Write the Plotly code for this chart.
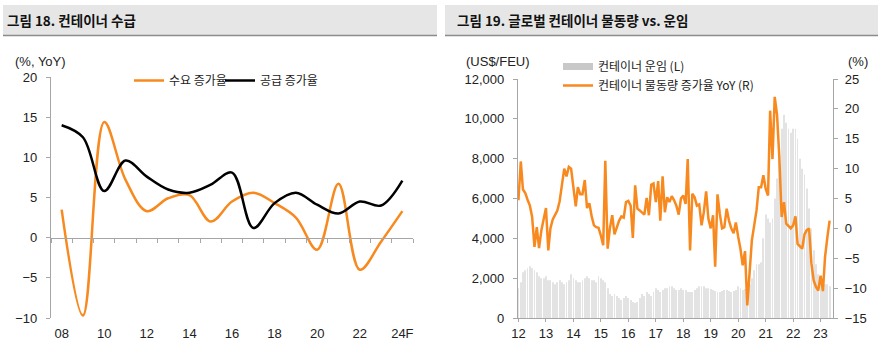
import plotly.graph_objects as go

# ---------------- Left chart data (Fig 18) ----------------
years_l = ['08', '09', '10', '11', '12', '13', '14', '15', '16', '17', '18', '19', '20', '21', '22', '23', '24F']
demand = [3.5, -9.7, 14.4, 7.2, 3.3, 4.9, 5.3, 2.0, 4.5, 5.6, 4.3, 2.5, -1.5, 6.7, -4.0, -0.5, 3.3]
supply = [14.0, 12.5, 5.8, 9.6, 7.6, 6.0, 5.6, 6.6, 8.1, 1.2, 4.3, 5.6, 4.1, 3.0, 4.5, 4.0, 7.1]
xlabels_l = ['08', '10', '12', '14', '16', '18', '20', '22', '24F']

# ---------------- Right chart data (Fig 19) ----------------
months = [f"{y}-{m:02d}-01" for y in range(2012, 2024) for m in range(1, 13)][:137]
freight = [
    1500, 1800, 2300, 2400, 2500, 2600, 2500, 2400, 2300, 2100, 2000, 2000,
    2100, 1900, 1900, 1800, 1700, 1800, 1900, 1800, 1700, 1800, 1900, 2200,
    2000, 1900, 1800, 1800, 1900, 2000, 2100, 2000, 1900, 1900, 1800, 2100,
    2000, 1900, 1800, 1500, 1200, 1100, 1200, 1100, 1000, 900, 1000, 1100,
    1000, 900, 800, 750, 800, 1000, 1200, 1100, 1300, 1200, 1100, 1300,
    1500, 1400, 1300, 1400, 1500, 1500, 1600, 1600, 1500, 1400, 1400, 1500,
    1400, 1400, 1300, 1300, 1300, 1400, 1500, 1600, 1600, 1600, 1500, 1500,
    1450, 1400, 1350, 1300, 1300, 1350, 1400, 1400, 1350, 1300, 1350, 1400,
    1600, 1500, 1400, 1450, 1500, 1700, 2000, 2400, 2700, 2700, 2800, 4000,
    5200, 5000, 4800, 5000, 6000, 7000, 8500, 9500, 10200, 9800, 9500, 9300,
    9500, 9500, 9000, 8000, 7500, 7200, 6500, 5500, 4500, 3400, 2700, 2200,
    2100, 1900, 1700, 1700, 1600,
]
volume_yoy = [
    4.7, 11.2, 6.5, 5.9, 4.8, 3.8, 1.9, -3.1, 0.2, -3.3, -0.3, 1.5,
    3.4, -3.7, 0.0, 1.5, 2.3, 3.0, 4.5, 7.5, 10.0, 8.7, 10.3, 10.0,
    7.2, 3.7, 6.9, 5.7, 5.7, 8.1, 3.4, 4.2, 2.0, 0.5, 0.2, 0.1,
    -1.2, -2.8, 11.3, -3.4, 0.0, 2.2, -1.0, 0.2, 1.3, 2.0, 1.8, 4.4,
    4.6, 3.8, -1.6, 7.2, 3.3, 3.0, 2.7, 2.3, 5.1, 2.2, 7.3, 7.5,
    4.4, 7.9, 1.3, 8.7, 2.7, 5.2, 4.4, 5.4, 4.7, 3.8, 2.3, 5.0,
    5.5, 4.1, 11.6, -3.7, 5.8, 5.2, 3.8, 4.0, 0.5, 2.7, 6.2, 1.6,
    0.0, 2.2, -6.4, 5.7, 2.5, 0.0, 0.2, 3.3, 1.3, 0.0, -0.8, 1.0,
    -1.4, -3.5, -6.2, -3.8, -12.9, -7.6, -2.0, 0.5, 3.0, 6.9, 6.9, 8.9,
    6.6, 5.5, 19.7, 11.6, 22.0, 19.0, 12.0, 1.9, 4.4, 0.8, 0.3, 0.0,
    0.5, 2.0, -2.6, -3.0, -3.4, -1.0, -0.3, 0.0, -5.9, -8.7, -9.8, -10.4,
    -7.9, -10.5, -4.8, -1.5, 1.3,
]
year_ticks = [f"{y}-01-01" for y in range(2012, 2024)]
year_text = [f"{y % 100:02d}" for y in range(2012, 2024)]

ORANGE = '#F7891F'
AXIS = '#a6a6a6'
TXT = '#222222'
FONT = 'Liberation Sans, Arial, Noto Sans CJK KR, sans-serif'
KFONT = 'Noto Sans CJK KR, Liberation Sans, sans-serif'

W, H = 891, 341
def px(x):
    return x / W
def py(y):
    return (H - y) / H

fig = go.Figure()

# Left chart
fig.add_trace(go.Scatter(x=years_l, y=demand, name='수요 증가율', mode='lines',
                         line=dict(color=ORANGE, width=2.5, shape='spline', smoothing=1.0),
                         xaxis='x', yaxis='y', legend='legend'))
fig.add_trace(go.Scatter(x=years_l, y=supply, name='공급 증가율', mode='lines',
                         line=dict(color='#000000', width=2.5, shape='spline', smoothing=1.0),
                         xaxis='x', yaxis='y', legend='legend3'))
# invisible helper trace for the zero axis with boundary ticks
fig.add_trace(go.Scatter(x=years_l, y=[0] * len(years_l), mode='lines', opacity=0,
                         showlegend=False, hoverinfo='skip', xaxis='x3', yaxis='y'))

# Right chart
fig.add_trace(go.Bar(x=months, y=freight, name='컨테이너 운임 (L)', marker=dict(color='#e3e3e3', line=dict(width=0)),
                     showlegend=False, xaxis='x2', yaxis='y2'))
fig.add_trace(go.Scatter(x=[None], y=[None], name='컨테이너 운임 (L)', mode='lines',
                         line=dict(color='#c8c8c8', width=7), xaxis='x2', yaxis='y2', legend='legend2'))
fig.add_trace(go.Scatter(x=months, y=volume_yoy, name='컨테이너 물동량 증가율 YoY (R)', mode='lines',
                         line=dict(color=ORANGE, width=2.5), xaxis='x2', yaxis='y3', legend='legend2'))

ax_common = dict(showgrid=False, zeroline=False, linecolor=AXIS, linewidth=1.2, tickcolor=AXIS,
                 tickfont=dict(family=FONT, size=13, color=TXT), automargin=False)

leg_common = dict(font=dict(family=KFONT, size=12, color=TXT), bgcolor='rgba(0,0,0,0)',
                  itemwidth=30, xanchor='left', yanchor='top')

fig.update_layout(
    width=W, height=H, margin=dict(l=0, r=0, t=0, b=0, autoexpand=False),
    paper_bgcolor='white', plot_bgcolor='rgba(0,0,0,0)',
    font=dict(family=FONT, size=12, color=TXT),
    bargap=0.6,
    xaxis=dict(domain=[px(51), px(413)], type='category', categoryorder='array', categoryarray=years_l,
               range=[-0.5, 16.5], tickvals=xlabels_l, showline=False, ticks='', ticklabelstandoff=6,
               anchor='y', **ax_common),
    xaxis3=dict(overlaying='x', anchor='free', position=py(237.7), type='category', categoryorder='array',
                categoryarray=years_l, range=[-0.5, 16.5], showline=True, ticks='outside', ticklen=4,
                tickson='boundaries', showticklabels=False, **ax_common),
    yaxis=dict(domain=[py(318), py(77)], range=[-10, 20], dtick=5, showline=True, ticks='outside', ticklen=4,
               ticklabelstandoff=6, anchor='x', **ax_common),
    xaxis2=dict(domain=[px(518), px(833)], type='date', range=['2011-12-26', '2023-06-15'],
                tickvals=year_ticks, ticktext=year_text, showline=True, ticks='outside', ticklen=3,
                ticklabelstandoff=0, anchor='y2', **ax_common),
    yaxis2=dict(domain=[py(318), py(79)], range=[0, 12000], tickvals=list(range(0, 12001, 2000)),
                tickformat=',', showline=True, ticks='outside', ticklen=4, ticklabelstandoff=6,
                anchor='x2', **ax_common),
    yaxis3=dict(overlaying='y2', side='right', anchor='x2', range=[-15, 25], dtick=5, showline=True,
                ticks='outside', ticklen=4, ticklabelstandoff=4, **ax_common),
    legend=dict(orientation='h', x=px(129), y=py(66), **leg_common),
    legend3=dict(orientation='h', x=px(220), y=py(66), **leg_common),
    legend2=dict(orientation='v', x=px(558), y=py(52), tracegroupgap=2, **leg_common),
    showlegend=True,
)

# Title bands
shapes = []
for x0, x1 in [(3, 437), (445, 878)]:
    shapes.append(dict(type='rect', xref='paper', yref='paper', x0=px(x0), x1=px(x1), y0=py(35), y1=py(5),
                       fillcolor='#e6e6e6', line=dict(width=0), layer='below'))
    shapes.append(dict(type='line', xref='paper', yref='paper', x0=px(x0), x1=px(x1), y0=py(35.5), y1=py(35.5),
                       line=dict(color='#8c8c8c', width=1.5)))
fig.update_layout(shapes=shapes)

ann = [
    dict(text='<b>그림 18. 컨테이너 수급</b>', x=px(5), y=py(20), xanchor='left', yanchor='middle',
         font=dict(family=KFONT, size=13.5, color='#111111')),
    dict(text='<b>그림 19. 글로벌 컨테이너 물동량 vs. 운임</b>', x=px(455), y=py(20), xanchor='left', yanchor='middle',
         font=dict(family=KFONT, size=13.5, color='#111111')),
    dict(text='(%, YoY)', x=px(40), y=py(62), xanchor='center', yanchor='middle',
         font=dict(family=FONT, size=13, color=TXT)),
    dict(text='(US$/FEU)', x=px(498), y=py(62), xanchor='center', yanchor='middle',
         font=dict(family=FONT, size=13, color=TXT)),
    dict(text='(%)', x=px(858), y=py(62), xanchor='center', yanchor='middle',
         font=dict(family=FONT, size=13, color=TXT)),
]
for a in ann:
    a.update(xref='paper', yref='paper', showarrow=False)
fig.update_layout(annotations=ann)

fig.write_html('out.html')
